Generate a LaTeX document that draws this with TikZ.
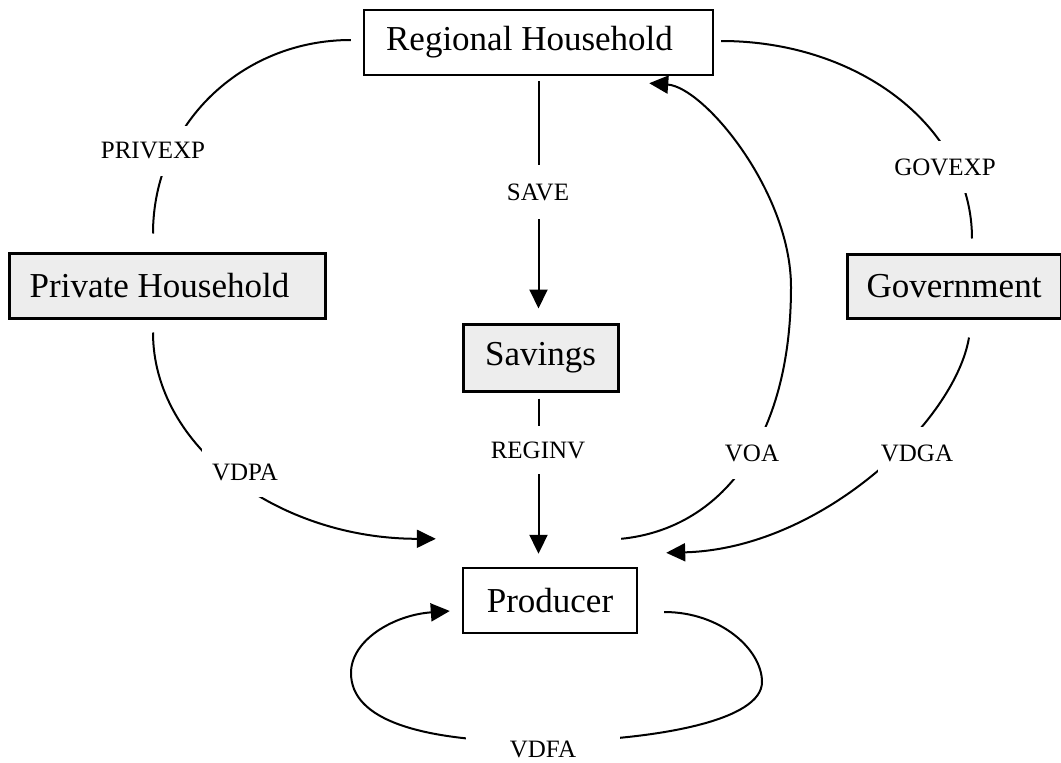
\documentclass[tikz,border=0pt]{standalone}
\usepackage{fontspec}
\setmainfont{Liberation Serif}
\usetikzlibrary{arrows.meta}
\newcommand\bxfont{\fontsize{35}{42}\selectfont}
\newcommand\lbfont{\fontsize{25}{30}\selectfont}
\begin{document}
\begin{tikzpicture}[x=1pt,y=-1pt,
  box/.style={draw, line width=2.4pt, inner sep=0pt, font=\bxfont},
  shadedbox/.style={box, fill=gray!14, line width=3pt},
  lbl/.style={font=\lbfont, fill=white, inner xsep=3pt},
  flow/.style={line width=2pt},
  arr/.style={-{Triangle[length=19pt,width=18pt]}}]
\useasboundingbox (0,0) rectangle (1061,763);
\fill[white] (0,0) rectangle (1061,763);

% boxes
\node[box, minimum width=349pt, minimum height=65pt] (rh) at (538.5,42.5) {Regional Household\kern18pt};
\node[shadedbox, minimum width=316pt, minimum height=65pt] (ph) at (167.5,285.5) {Private Household\kern16pt};
\node[shadedbox, minimum width=155pt, minimum height=67pt] (sv) at (540.5,357.5) {Savings};
\node[shadedbox, minimum width=214pt, minimum height=64pt] (gv) at (954,286) {Government};
\node[box, minimum width=174pt, minimum height=65pt] (pr) at (550,600.5) {Producer};

% connectors
\draw[flow] ([xshift=-12pt,yshift=2.5pt]rh.west) .. controls +(-110,0) and +(0,-108) .. ([xshift=-14.5pt,yshift=18pt]ph.north);
\draw[flow,arr] ([xshift=-14.5pt,yshift=-13pt]ph.south) .. controls +(0,115) and +(-157,0) .. ([xshift=-26pt,yshift=28pt]pr.north west);
\draw[flow,arr,shorten <=5pt,shorten >=14pt] (rh.south) -- (rh.south |- sv.north);
\draw[flow,arr,shorten <=6pt,shorten >=13pt] (rh.south |- sv.south) -- (rh.south |- pr.north);
\draw[flow,arr] ([xshift=-17pt,yshift=28pt]pr.north east) .. controls +(100,-10) and +(0,153) .. (791,287) .. controls +(0,-95) and +(55,4) .. ([xshift=-65pt,yshift=-7pt]rh.south east);
\draw[flow] ([xshift=7pt,yshift=1.5pt]rh.east) .. controls +(139,0) and +(0,-110) .. ([xshift=18pt,yshift=14pt]gv.north);
\draw[flow,arr] ([xshift=15pt,yshift=-18pt]gv.south) .. controls +(-14,84) and +(155,-4) .. ([xshift=28pt,yshift=14pt]pr.north east);
\draw[flow,arr] ([xshift=26pt,yshift=-11.5pt]pr.east) .. controls +(57,0) and +(0,-32) .. (762,682) .. controls +(0,38) and +(117,-2) .. (543,742) .. controls +(-123,0) and +(0,47) .. (351,673) .. controls +(0,-33) and +(-56,4) .. ([xshift=-12pt,yshift=-10.5pt]pr.west);

% labels
\node[lbl, inner ysep=17pt] (lprivexp) at (153,151) {PRIVEXP};
\node[lbl, inner ysep=18pt] (lgovexp) at (945,167) {GOVEXP};
\node[lbl, inner ysep=19pt] (lsave) at (538,192) {SAVE};
\node[lbl, inner ysep=16pt] (lreginv) at (538,450) {REGINV};
\node[lbl, inner ysep=17pt, inner xsep=10pt] (lvdpa) at (245,472) {VDPA};
\node[lbl, inner ysep=18pt] (lvoa) at (752,453) {VOA};
\node[lbl, inner ysep=18pt] (lvdga) at (917,453) {VDGA};
\node[lbl, inner ysep=9pt, inner xsep=44pt] (lvdfa) at (543,749) {VDFA};
\end{tikzpicture}
\end{document}
